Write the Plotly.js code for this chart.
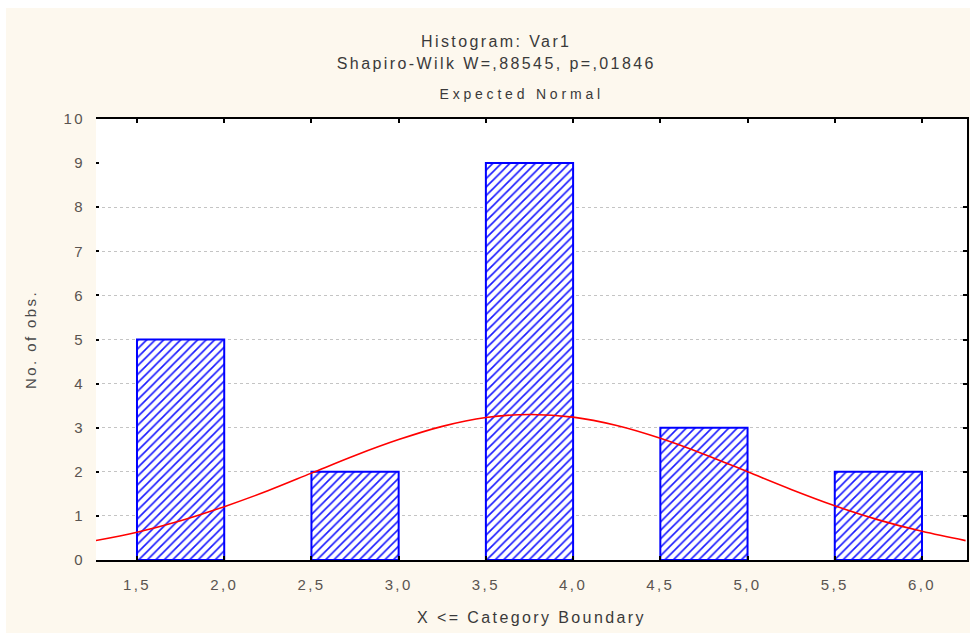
<!DOCTYPE html>
<html>
<head>
<meta charset="utf-8">
<script src="https://cdn.plot.ly/plotly-3.0.1.min.js"></script>
<style>
  html, body { margin: 0; padding: 0; background: #ffffff; }
  #chart { position: absolute; left: 6px; top: 8px; width: 964px; height: 625px; }
  /* wide, evenly spaced lettering for all chart text */
  #chart svg text { letter-spacing: 2.4px; }
  #chart g.annotation[data-index="2"] text { letter-spacing: 3.8px; }
</style>
</head>
<body>
<div id="chart"></div>
<script>
// Histogram categories (lower / upper boundary) and observed counts
const binLow  = [1.5, 2.5, 3.5, 4.5, 5.5];
const binHigh = [2.0, 3.0, 4.0, 5.0, 6.0];
const counts  = [5, 2, 9, 3, 2];

// Expected normal curve, sampled along the x axis
const normalX = [1.25, 1.5, 1.75, 2.0, 2.25, 2.5, 2.75, 3.0, 3.25, 3.5, 3.75,
                 4.0, 4.25, 4.5, 4.75, 5.0, 5.25, 5.5, 5.75, 6.0, 6.25];
const normalY = [0.43, 0.63, 0.89, 1.21, 1.57, 1.97, 2.37, 2.73, 3.03, 3.23, 3.30,
                 3.24, 3.05, 2.76, 2.40, 2.00, 1.60, 1.23, 0.91, 0.65, 0.44];

// Axis labels
const xTickVals = [1.5, 2.0, 2.5, 3.0, 3.5, 4.0, 4.5, 5.0, 5.5, 6.0];
const xTickText = ['1,5', '2,0', '2,5', '3,0', '3,5', '4,0', '4,5', '5,0', '5,5', '6,0'];
const yTickVals = [0, 1, 2, 3, 4, 5, 6, 7, 8, 9, 10];
const gridLevels = [1, 2, 3, 4, 5, 6, 7, 8];

const centers = binLow.map((lo, i) => (lo + binHigh[i]) / 2);
const widths  = binLow.map((lo, i) => binHigh[i] - lo);

const bars = {
  type: 'bar',
  x: centers,
  y: counts,
  width: widths,
  marker: {
    color: '#ffffff',
    line: { color: '#0000ff', width: 2 },
    pattern: { shape: '/', fgcolor: '#1a1aff', bgcolor: '#ffffff', size: 6, solidity: 0.27 }
  },
  showlegend: false
};

const curve = {
  type: 'scatter',
  mode: 'lines',
  x: normalX,
  y: normalY,
  line: { color: '#ff0000', width: 1.6, shape: 'spline' },
  showlegend: false
};

const FONT = 'Liberation Sans, Arial, sans-serif';
const tickFont = { family: FONT, size: 15, color: '#5a5450' };

const layout = {
  width: 964,
  height: 625,
  paper_bgcolor: '#fdf8ee',
  plot_bgcolor: '#ffffff',
  margin: { l: 90, r: 3, t: 111, b: 73 },
  font: { family: FONT, color: '#333333' },
  bargap: 0,
  xaxis: {
    range: [1.265, 6.258],
    tickvals: xTickVals,
    ticktext: xTickText,
    tickfont: tickFont,
    ticks: 'inside',
    ticklen: 4,
    tickwidth: 2,
    tickcolor: '#000000',
    ticklabelstandoff: 10,
    showline: true,
    linecolor: '#000000',
    linewidth: 2,
    mirror: 'ticks',
    showgrid: false,
    zeroline: false,
    layer: 'above traces',
    title: { text: 'X <= Category Boundary', font: { size: 16, color: '#3a3a3a' }, standoff: 20 }
  },
  yaxis: {
    range: [0, 10],
    tickvals: yTickVals,
    tickfont: tickFont,
    ticks: 'inside',
    ticklen: 3,
    tickwidth: 2,
    tickcolor: '#000000',
    ticklabelstandoff: 10,
    showline: false,
    showgrid: false,
    zeroline: false,
    title: { text: 'No. of obs.', font: { size: 15, color: '#4a4a4a' }, standoff: 28 }
  },
  yaxis2: {
    overlaying: 'y',
    side: 'right',
    range: [0, 10],
    tickvals: gridLevels,
    showticklabels: false,
    ticks: 'inside',
    ticklen: 4,
    tickwidth: 2,
    tickcolor: '#000000',
    showline: true,
    linecolor: '#000000',
    linewidth: 2,
    showgrid: true,
    gridcolor: '#c4c4c4',
    griddash: 'dot',
    gridwidth: 1,
    zeroline: false
  },
  annotations: [
    { text: 'Histogram: Var1', xref: 'paper', yref: 'paper', x: 0.460, y: 1 + (111 - 33) / 441,
      showarrow: false, font: { size: 16, color: '#3a3a3a' }, xanchor: 'center', yanchor: 'middle' },
    { text: 'Shapiro-Wilk W=,88545, p=,01846', xref: 'paper', yref: 'paper', x: 0.460, y: 1 + (111 - 55) / 441,
      showarrow: false, font: { size: 16, color: '#3a3a3a' }, xanchor: 'center', yanchor: 'middle' },
    { text: 'Expected Normal', xref: 'paper', yref: 'paper', x: 0.489, y: 1 + (111 - 86) / 441,
      showarrow: false, font: { size: 14, color: '#3a3a3a' }, xanchor: 'center', yanchor: 'middle' }
  ]
};

// empty trace that activates the right-hand axis carrying the grid
const gridCarrier = { type: 'scatter', x: [], y: [], yaxis: 'y2', showlegend: false, hoverinfo: 'skip' };

Plotly.newPlot('chart', [gridCarrier, bars, curve], layout, { displayModeBar: false, staticPlot: true });
</script>
</body>
</html>
